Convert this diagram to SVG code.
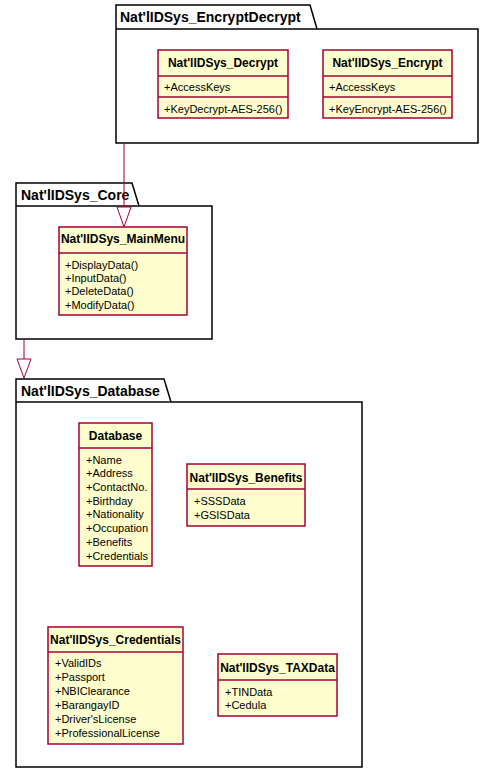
<svg xmlns="http://www.w3.org/2000/svg" width="493" height="773" viewBox="0 0 493 773">
<style>
.pkg{fill:#FFFFFF;stroke:#000000;stroke-width:1.5}
.cls{fill:#FEFECE;stroke:#A80036;stroke-width:1.5}
.sep{stroke:#A80036;stroke-width:1.5}
.pt{font-family:"Liberation Sans",Arial,sans-serif;font-size:14px;font-weight:bold;fill:#000}
.ct{font-family:"Liberation Sans",Arial,sans-serif;font-size:12px;font-weight:bold;fill:#000;text-anchor:middle}
.at{font-family:"Liberation Sans",Arial,sans-serif;font-size:11px;fill:#000}
.edge{stroke:#A80036;stroke-width:1;fill:none}
.head{fill:#FFFFFF;stroke:#A80036;stroke-width:1}
</style>
<rect width="493" height="773" fill="#FFFFFF"/>

<g id="pkg_EncryptDecrypt">
<polygon class="pkg" points="116,5 310,5 317,29 478,29 478,143 116,143 116,29 116,5"/>
<line class="pkg" x1="116" y1="29" x2="317" y2="29"/>
<text class="pt" x="120" y="22">Nat'lIDSys_EncryptDecrypt</text>
</g>

<g id="Decrypt">
<rect class="cls" x="158" y="50" width="130" height="68"/>
<line class="sep" x1="158" y1="76" x2="288" y2="76"/>
<line class="sep" x1="158" y1="97" x2="288" y2="97"/>
<text class="ct" x="223" y="67">Nat'lIDSys_Decrypt</text>
<text class="at" x="164" y="91">+AccessKeys</text>
<text class="at" x="164" y="113">+KeyDecrypt-AES-256()</text>
</g>

<g id="Encrypt">
<rect class="cls" x="323" y="50" width="129" height="68"/>
<line class="sep" x1="323" y1="76" x2="452" y2="76"/>
<line class="sep" x1="323" y1="97" x2="452" y2="97"/>
<text class="ct" x="387.5" y="67">Nat'lIDSys_Encrypt</text>
<text class="at" x="329" y="91">+AccessKeys</text>
<text class="at" x="329" y="113">+KeyEncrypt-AES-256()</text>
</g>

<g id="pkg_Core">
<polygon class="pkg" points="16,183 132,183 139,206 212,206 212,339 16,339 16,206 16,183"/>
<line class="pkg" x1="16" y1="206" x2="139" y2="206"/>
<text class="pt" x="21" y="200">Nat'lIDSys_Core</text>
</g>

<g id="MainMenu">
<rect class="cls" x="59" y="227" width="128" height="88"/>
<line class="sep" x1="59" y1="253" x2="187" y2="253"/>
<text class="ct" x="123" y="243">Nat'lIDSys_MainMenu</text>
<text class="at" x="65" y="269">+DisplayData()</text>
<text class="at" x="65" y="282">+InputData()</text>
<text class="at" x="65" y="295">+DeleteData()</text>
<text class="at" x="65" y="309">+ModifyData()</text>
</g>

<g id="pkg_Database">
<polygon class="pkg" points="16,379 164,379 171,402 362,402 362,767 16,767 16,402 16,379"/>
<line class="pkg" x1="16" y1="402" x2="171" y2="402"/>
<text class="pt" x="21" y="396">Nat'lIDSys_Database</text>
</g>

<g id="Database">
<rect class="cls" x="79" y="423" width="73" height="143"/>
<line class="sep" x1="79" y1="448" x2="152" y2="448"/>
<text class="ct" x="115.5" y="440">Database</text>
<text class="at" x="86" y="464">+Name</text>
<text class="at" x="86" y="477">+Address</text>
<text class="at" x="86" y="491">+ContactNo.</text>
<text class="at" x="86" y="505">+Birthday</text>
<text class="at" x="86" y="518">+Nationality</text>
<text class="at" x="86" y="532">+Occupation</text>
<text class="at" x="86" y="546">+Benefits</text>
<text class="at" x="86" y="560">+Credentials</text>
</g>

<g id="Benefits">
<rect class="cls" x="187" y="464" width="118" height="62"/>
<line class="sep" x1="187" y1="489" x2="305" y2="489"/>
<text class="ct" x="246" y="482">Nat'lIDSys_Benefits</text>
<text class="at" x="194" y="505">+SSSData</text>
<text class="at" x="194" y="519">+GSISData</text>
</g>

<g id="Credentials">
<rect class="cls" x="48" y="627" width="135" height="117"/>
<line class="sep" x1="48" y1="652" x2="183" y2="652"/>
<text class="ct" x="115.5" y="644">Nat'lIDSys_Credentials</text>
<text class="at" x="55" y="667">+ValidIDs</text>
<text class="at" x="55" y="681">+Passport</text>
<text class="at" x="55" y="695">+NBIClearance</text>
<text class="at" x="55" y="709">+BarangayID</text>
<text class="at" x="55" y="723">+Driver'sLicense</text>
<text class="at" x="55" y="737">+ProfessionalLicense</text>
</g>

<g id="TAXData">
<rect class="cls" x="218" y="654" width="119" height="62"/>
<line class="sep" x1="218" y1="680" x2="337" y2="680"/>
<text class="ct" x="277.5" y="672">Nat'lIDSys_TAXData</text>
<text class="at" x="225" y="696">+TINData</text>
<text class="at" x="225" y="709">+Cedula</text>
</g>

<g id="connectors">
<line class="edge" x1="124" y1="143" x2="124" y2="207"/>
<polygon class="head" points="117,207 131,207 124,227"/>
<line class="edge" x1="24" y1="339" x2="24" y2="359"/>
<polygon class="head" points="17,359 31,359 24,378"/>
</g>
</svg>
